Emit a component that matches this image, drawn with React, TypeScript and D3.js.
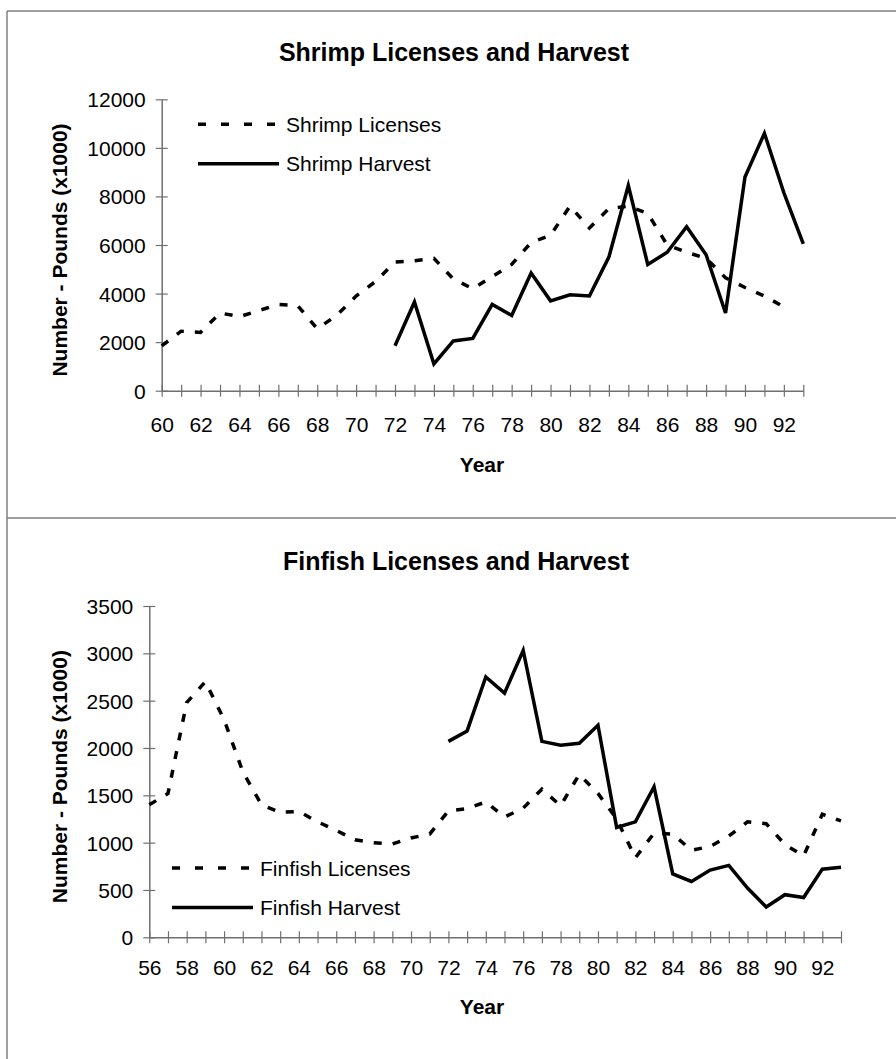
import React, { useEffect, useRef } from 'react'
import * as d3 from 'd3'

// shrimp chart (years 1960-1993)
const shrimpLicenseYears = d3.range(60, 93)
const shrimpLicenses = [1850, 2450, 2400, 3200, 3050, 3300, 3550, 3500, 2550, 3100, 3900, 4500, 5300, 5350, 5450, 4600, 4200,
  4700, 5200, 6100, 6400, 7600, 6700, 7500, 7600, 7300, 6000, 5700, 5450, 4650, 4250, 3900, 3450]
const shrimpHarvestYears = d3.range(72, 94)
const shrimpHarvest = [1850, 3650, 1100, 2050, 2150, 3550, 3100, 4850, 3700, 3950, 3900, 5500, 8450, 5200, 5700, 6750,
  5600, 3200, 8800, 10600, 8150, 6050]
const shrimpYTicks = [0, 2000, 4000, 6000, 8000, 10000, 12000]

// finfish chart (years 1956-1993)
const finLicenseYears = d3.range(56, 94)
const finLicenses = [1400, 1520, 2480, 2700, 2300, 1750, 1400, 1320, 1330, 1220, 1130, 1030, 1000, 985, 1050, 1090, 1335,
  1360, 1430, 1270, 1365, 1565, 1390, 1720, 1520, 1250, 840, 1100, 1090, 920, 960, 1070, 1220, 1200, 980, 860, 1300, 1230]
const finHarvestYears = d3.range(72, 94)
const finHarvest = [2070, 2180, 2750, 2580, 3030, 2070, 2030, 2050, 2240, 1160, 1220, 1590, 670, 590, 710, 760, 520, 320,
  450, 420, 720, 740]
const finYTicks = [0, 500, 1000, 1500, 2000, 2500, 3000, 3500]

const FONT = '"Liberation Sans", Arial, sans-serif'
const AXIS = '#707070'

function drawChart(g: d3.Selection<SVGGElement, unknown, null, undefined>, cfg: any) {
  const x = d3.scaleLinear().domain(cfg.xDomain).range(cfg.xRange)
  const y = d3.scaleLinear().domain(cfg.yDomain).range(cfg.yRange)

  // title
  g.append('text').attr('x', cfg.titleX).attr('y', cfg.titleY).attr('text-anchor', 'middle')
    .attr('font-family', FONT).attr('font-weight', 'bold').attr('font-size', 25).text(cfg.title)

  // x axis
  const xAxis = d3.axisBottom(x).tickValues(d3.range(cfg.xDomain[0], cfg.xDomain[1] + 1))
    .tickSizeOuter(0).tickSizeInner(6)
    .tickFormat((d: any) => (d % 2 === 0 && d < cfg.xDomain[1]) ? String(d) : '')
  const xg = g.append('g').attr('transform', `translate(0,${cfg.yRange[0]})`).call(xAxis)
  xg.select('.domain').attr('stroke', AXIS).attr('stroke-width', 1.5)
  xg.selectAll('.tick line').attr('y1', -6).attr('y2', 6).attr('stroke', AXIS).attr('stroke-width', 1.2)
  xg.selectAll('.tick text').attr('y', cfg.xLabelY).attr('dy', 0).attr('fill', '#000')
    .attr('font-family', FONT).attr('font-size', 21)

  // y axis
  const yAxis = d3.axisLeft(y).tickValues(cfg.yTicks).tickSizeOuter(0).tickSizeInner(6).tickFormat(d3.format('d'))
  const yg = g.append('g').attr('transform', `translate(${cfg.xRange[0]},0)`).call(yAxis)
  yg.select('.domain').attr('stroke', AXIS).attr('stroke-width', 1.5)
  yg.selectAll('.tick line').attr('x1', -6).attr('x2', 6).attr('stroke', AXIS).attr('stroke-width', 1.2)
  yg.selectAll('.tick text').attr('x', -16).attr('dy', '0.36em').attr('fill', '#000')
    .attr('font-family', FONT).attr('font-size', 21)

  // axis titles
  g.append('text').attr('x', cfg.yearX).attr('y', cfg.yearY).attr('text-anchor', 'middle')
    .attr('font-family', FONT).attr('font-weight', 'bold').attr('font-size', 21).text('Year')
  const midY = (cfg.yRange[0] + cfg.yRange[1]) / 2 + 5
  g.append('text').attr('transform', `translate(67,${midY}) rotate(-90)`).attr('text-anchor', 'middle')
    .attr('font-family', FONT).attr('font-weight', 'bold').attr('font-size', 21).text('Number - Pounds (x1000)')

  const line = d3.line<[number, number]>().x(d => x(d[0])).y(d => y(d[1]))

  g.append('path').datum(d3.zip(cfg.licYears, cfg.lic) as [number, number][])
    .attr('d', line).attr('fill', 'none').attr('stroke', '#000').attr('stroke-width', 3.5)
    .attr('stroke-dasharray', '8,11')
  g.append('path').datum(d3.zip(cfg.harvYears, cfg.harv) as [number, number][])
    .attr('d', line).attr('fill', 'none').attr('stroke', '#000').attr('stroke-width', 3.5)
    .attr('stroke-linejoin', 'miter')

  // legend
  const lg = g.append('g').attr('transform', `translate(${cfg.legendX},${cfg.legendY})`)
  lg.append('line').attr('x1', 0).attr('x2', 80).attr('y1', 0).attr('y2', 0)
    .attr('stroke', '#000').attr('stroke-width', 3.5).attr('stroke-dasharray', '8,15')
  lg.append('line').attr('x1', 0).attr('x2', 81).attr('y1', 39.5).attr('y2', 39.5)
    .attr('stroke', '#000').attr('stroke-width', 3.5)
  lg.append('text').attr('x', 88).attr('y', 7.5).attr('font-family', FONT).attr('font-size', 21).text(cfg.licName)
  lg.append('text').attr('x', 88).attr('y', 47).attr('font-family', FONT).attr('font-size', 21).text(cfg.harvName)
}

export default function App() {
  const ref = useRef<SVGSVGElement>(null)

  useEffect(() => {
    const svg = d3.select(ref.current)
    svg.selectAll('*').remove()

    // frame lines
    svg.append('line').attr('x1', 7).attr('x2', 896).attr('y1', 11).attr('y2', 11).attr('stroke', '#808080').attr('stroke-width', 1.5)
    svg.append('line').attr('x1', 7).attr('x2', 7).attr('y1', 11).attr('y2', 1059).attr('stroke', '#808080').attr('stroke-width', 1.5)
    svg.append('line').attr('x1', 7).attr('x2', 896).attr('y1', 518).attr('y2', 518).attr('stroke', '#808080').attr('stroke-width', 1.5)

    drawChart(svg.append('g'), {
      title: 'Shrimp Licenses and Harvest', titleX: 454, titleY: 61,
      xDomain: [60, 93], xRange: [161.7, 803.3], yDomain: [0, 12000], yRange: [390.7, 99.3],
      yTicks: shrimpYTicks, xLabelY: 41, yearX: 482, yearY: 472,
      licYears: shrimpLicenseYears, lic: shrimpLicenses, harvYears: shrimpHarvestYears, harv: shrimpHarvest,
      licName: 'Shrimp Licenses', harvName: 'Shrimp Harvest', legendX: 198, legendY: 124.3,
    })
    drawChart(svg.append('g'), {
      title: 'Finfish Licenses and Harvest', titleX: 456, titleY: 570,
      xDomain: [56, 93], xRange: [149.3, 841], yDomain: [0, 3500], yRange: [937.3, 606],
      yTicks: finYTicks, xLabelY: 38, yearX: 482, yearY: 1014,
      licYears: finLicenseYears, lic: finLicenses, harvYears: finHarvestYears, harv: finHarvest,
      licName: 'Finfish Licenses', harvName: 'Finfish Harvest', legendX: 172, legendY: 868,
    })
  }, [])

  return (
    <svg ref={ref} width={896} height={1059}
      style={{ position: 'absolute', left: 0, top: 0, background: '#fff' }} />
  )
}
